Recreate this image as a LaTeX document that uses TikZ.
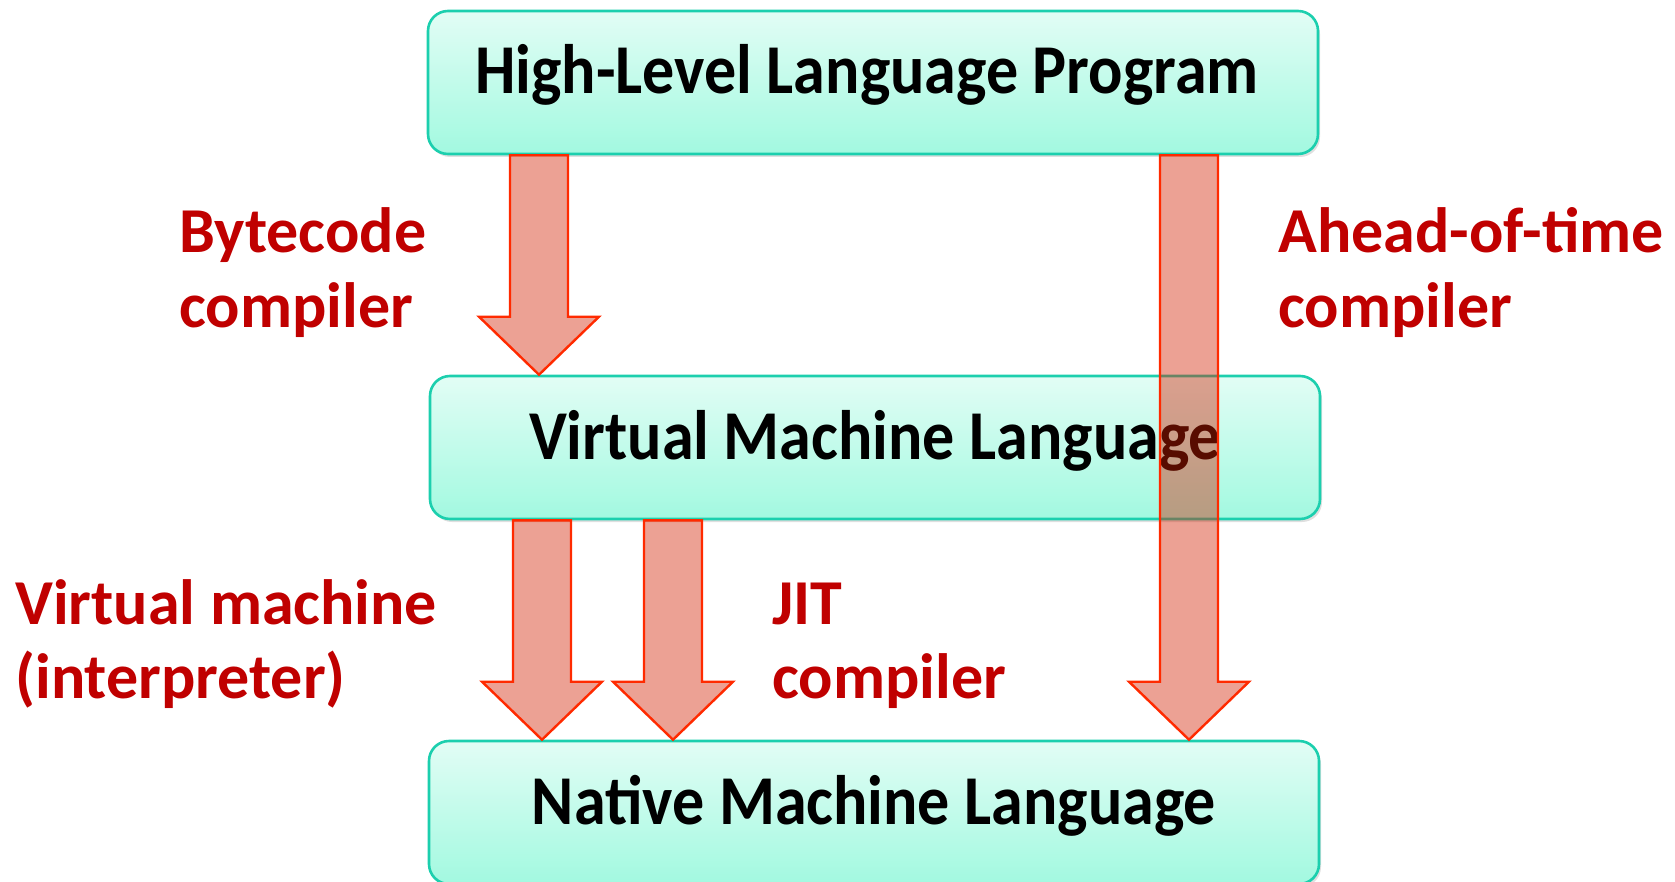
\documentclass[tikz,border=0pt]{standalone}
\usepackage{fontspec}
\setmainfont{Carlito}
\usetikzlibrary{calc,shadows}

\definecolor{boxline}{HTML}{1CCFAE}
\definecolor{boxtop}{HTML}{E2FDF5}
\definecolor{boxbot}{HTML}{A2F9E0}
\definecolor{labred}{HTML}{C00000}
\definecolor{arrline}{HTML}{FF2A00}
\definecolor{arrfill}{RGB}{210,30,0}

\tikzset{
  langbox/.style={draw=boxline, line width=1.3pt, rounded corners=10pt,
    top color=boxtop, bottom color=boxbot, minimum width=445pt, minimum height=71.5pt,
    drop shadow={opacity=.25, shadow xshift=1pt, shadow yshift=-1.5pt}},
  boxtext/.style={font=\fontsize{35}{40}\selectfont\bfseries, anchor=base, inner sep=0pt},
  labtext/.style={font=\fontsize{32}{37}\selectfont\bfseries, text=labred, align=left,
    anchor=base west, inner sep=0pt},
  bigarrow/.style={draw=arrline, line width=1.2pt, fill=arrfill, fill opacity=.42, line join=miter},
}

% narrow the box titles a bit
\newcommand\boxtitle[1]{\scalebox{0.915}[1]{#1}}

% fat block arrow from #1 down to #2
\newcommand\fatarrow[2]{%
  \path (#1) coordinate (fa-a) (#2) coordinate (fa-b);
  \draw[bigarrow] ($(fa-a)+(-29,0)$) -- ($(fa-b)+(-29,-58)$) -- ($(fa-b)+(-60,-58)$) -- (fa-b)
    -- ($(fa-b)+(60,-58)$) -- ($(fa-b)+(29,-58)$) -- ($(fa-a)+(29,0)$) -- cycle;}

\begin{document}
\begin{tikzpicture}[x=0.5pt, y=-0.5pt]
    \useasboundingbox (0,0) rectangle (1675,882);
    % the three levels
    \node[langbox] (hlp) at (873,82.5) {};
    \node[langbox] (vml) at (875,447.5) {};
    \node[langbox] (nml) at (874,812.5) {};
    \node[boxtext] (hlpt) at ([xshift=-3pt, yshift=-5.75pt]hlp.center) {\boxtitle{High-Level Language Program}};
    \node[boxtext] (vmlt) at ([yshift=-5.75pt]vml.center) {\boxtitle{Virtual Machine Language}};
    \node[boxtext] (nmlt) at ([yshift=-5.75pt]nml.center) {\boxtitle{Native Machine Language}};
    % arrow columns
    \coordinate (bc) at (539,0);
    \coordinate (vm) at (542,0);
    \coordinate (jit) at (673,0);
    \coordinate (aot) at (1189,0);
    \fatarrow{hlp.south -| bc}{vml.north -| bc}
    \fatarrow{vml.south -| vm}{nml.north -| vm}
    \fatarrow{vml.south -| jit}{nml.north -| jit}
    \fatarrow{hlp.south -| aot}{nml.north -| aot}
    % labels (base = last line)
    \node[labtext] (bcl) at (179,327) {Bytecode\\compiler};
    \node[labtext] (aotl) at (1278,327) {Ahead-of-time\\compiler};
    \node[labtext] (vml-l) at (15,698) {Virtual machine\\(interpreter)};
    \node[labtext] (jitl) at (772,698) {JIT\\compiler};
\end{tikzpicture}
\end{document}
